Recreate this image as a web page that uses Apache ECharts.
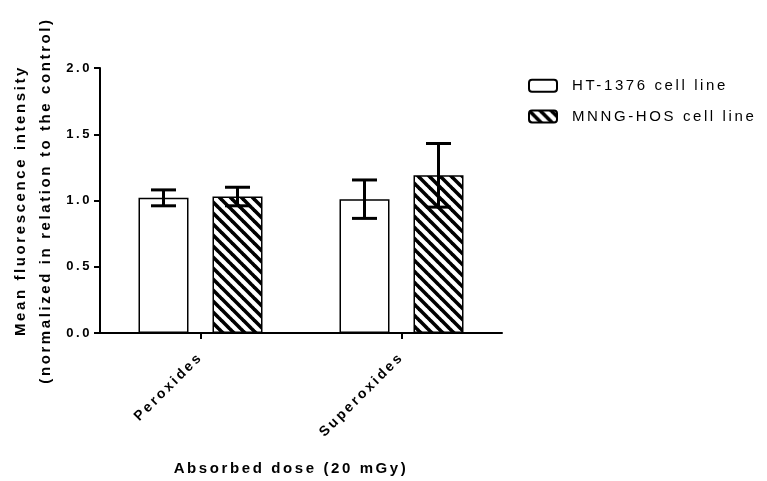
<!DOCTYPE html>
<html>
<head>
<meta charset="utf-8">
<script src="https://cdn.jsdelivr.net/npm/echarts@6/dist/echarts.min.js"></script>
<style>
html,body{margin:0;padding:0;background:#fff;}
#chart{width:767px;height:481px;}
</style>
</head>
<body>
<div id="chart"></div>
<script>
// letter-spaced text (like the original figure)
(function(){
  var proto = CanvasRenderingContext2D.prototype;
  var d = Object.getOwnPropertyDescriptor(proto, 'font');
  if (d && ('letterSpacing' in proto)) {
    Object.defineProperty(proto, 'font', {
      configurable: true,
      get: function(){ return d.get.call(this); },
      set: function(v){ d.set.call(this, v); this.letterSpacing = '2.6px'; }
    });
  }
})();

var categories = ['Peroxides', 'Superoxides'];
var seriesNames = ['HT-1376 cell line', 'MNNG-HOS cell line'];
var htMean = [1.02, 1.01];
var htErr = [0.06, 0.145];
var mnngMean = [1.03, 1.19];
var mnngErr = [0.07, 0.24];
var yTicks = ['0.0', '0.5', '1.0', '1.5', '2.0'];

var BAR_W = 50, BAR_GAP = 24;

function hatch() {
  var s = 11;
  var c = document.createElement('canvas');
  c.width = s; c.height = s;
  var g = c.getContext('2d');
  g.fillStyle = '#fff'; g.fillRect(0, 0, s, s);
  g.strokeStyle = '#000'; g.lineWidth = 3.6;
  for (var k = -1; k <= 1; k++) {
    g.beginPath();
    g.moveTo(k * s - 1, -1);
    g.lineTo(k * s + s + 1, s + 1);
    g.stroke();
  }
  return { image: c, repeat: 'repeat' };
}

function errSeries(means, errs, idx) {
  var data = means.map(function(m, i){ return [i, m - errs[i], m + errs[i]]; });
  var off = (idx === 0 ? -1 : 1) * (BAR_W + BAR_GAP) / 2;
  return {
    type: 'custom',
    z: 5,
    silent: true,
    data: data,
    renderItem: function(params, api) {
      var i = api.value(0);
      var lo = api.coord([i, api.value(1)]);
      var hi = api.coord([i, api.value(2)]);
      var x = lo[0] + off;
      var cw = 12.5;
      var st = { stroke: '#000', lineWidth: 3 };
      return {
        type: 'group',
        children: [
          { type: 'line', shape: { x1: x, y1: lo[1], x2: x, y2: hi[1] }, style: st },
          { type: 'line', shape: { x1: x - cw, y1: lo[1], x2: x + cw, y2: lo[1] }, style: st },
          { type: 'line', shape: { x1: x - cw, y1: hi[1], x2: x + cw, y2: hi[1] }, style: st }
        ]
      };
    }
  };
}

var font = 'Liberation Sans, Arial, sans-serif';
var chart = echarts.init(document.getElementById('chart'), null, { renderer: 'canvas' });
chart.setOption({
  animation: false,
  backgroundColor: '#fff',
  textStyle: { fontFamily: font, color: '#000' },
  legend: {
    orient: 'vertical',
    left: 528,
    top: 77,
    padding: 0,
    itemWidth: 28,
    itemHeight: 12,
    itemGap: 13,
    textStyle: { fontSize: 15, color: '#000', fontFamily: font, padding: [0, 0, 0, 10] },
    data: seriesNames
  },
  grid: { left: 100, right: 265, top: 68, bottom: 148, containLabel: false, outerBoundsMode: 'none' },
  xAxis: {
    type: 'category',
    data: categories,
    name: 'Absorbed dose (20 mGy)',
    nameLocation: 'middle',
    nameGap: 127,
    nameMoveOverlap: false,
    nameTextStyle: { fontSize: 15, fontWeight: 'bold', color: '#000', fontFamily: font, padding: [0, 20, 0, 0] },
    axisLine: { lineStyle: { color: '#000', width: 2 } },
    axisTick: { show: true, alignWithLabel: true, length: 6, lineStyle: { color: '#000', width: 2 } },
    axisLabel: { rotate: 45, margin: 22, fontSize: 14, fontWeight: 'bold', color: '#000', fontFamily: font }
  },
  yAxis: {
    type: 'value',
    min: 0, max: 2, interval: 0.5,
    name: 'Mean fluorescence intensity\n(normalized in relation to the control)',
    nameLocation: 'middle',
    nameGap: 42,
    nameMoveOverlap: false,
    nameTextStyle: { fontSize: 15, fontWeight: 'bold', color: '#000', lineHeight: 25, fontFamily: font },
    splitLine: { show: false },
    axisLine: { show: true, lineStyle: { color: '#000', width: 2 } },
    axisTick: { show: true, length: 6, lineStyle: { color: '#000', width: 2 } },
    axisLabel: {
      margin: 8, fontSize: 13, fontWeight: 'bold', color: '#000', fontFamily: font,
      formatter: function(v){ return yTicks[Math.round(v / 0.5)]; }
    }
  },
  series: [
    {
      name: seriesNames[0], type: 'bar', data: htMean,
      barWidth: BAR_W, barGap: (BAR_GAP / BAR_W * 100) + '%',
      itemStyle: { color: '#fff', borderColor: '#000', borderWidth: 1.5 }
    },
    {
      name: seriesNames[1], type: 'bar', data: mnngMean,
      barWidth: BAR_W,
      itemStyle: { color: hatch(), borderColor: '#000', borderWidth: 1.5 }
    },
    errSeries(htMean, htErr, 0),
    errSeries(mnngMean, mnngErr, 1)
  ]
});
</script>
</body>
</html>
